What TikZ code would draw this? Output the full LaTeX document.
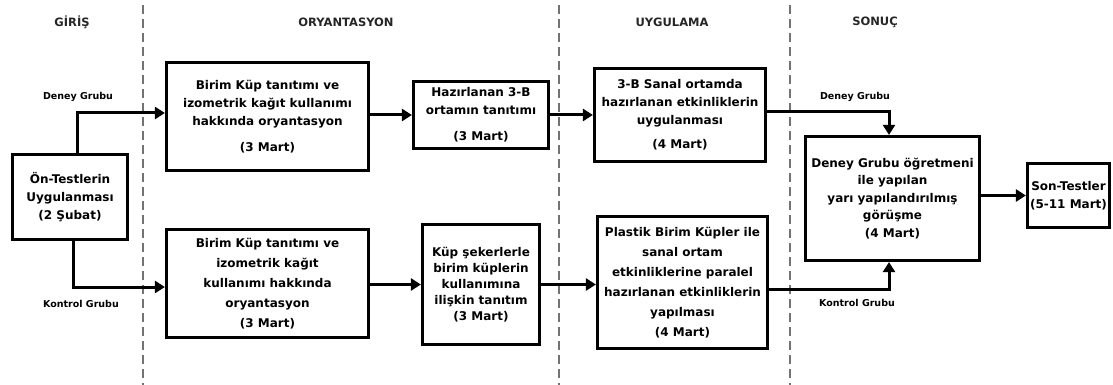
\documentclass[tikz,border=0pt]{standalone}
\usepackage{fontspec}
\setmainfont{DejaVu Sans}
\usetikzlibrary{arrows.meta,calc}
\begin{document}
\begin{tikzpicture}[x=1pt,y=-1pt,
 box/.style={draw,line width=3.2pt,align=center,inner sep=2pt,font=\fontsize{12}{18}\selectfont\bfseries},
 arr/.style={line width=3pt,-{Triangle[length=10pt,width=12pt]}},
 lbl/.style={font=\fontsize{9.5}{11}\selectfont\bfseries},
 hdr/.style={font=\fontsize{11.5}{14}\selectfont\bfseries, text=black!85},
 sep/.style={draw=black!55,line width=2.2pt,dash pattern=on 9pt off 5pt}]
\useasboundingbox (0,0) rectangle (1113,385);
% separators
\draw[sep] (143,5) -- (143,385);
\draw[sep] (559,5) -- (559,385);
\draw[sep] (790,5) -- (790,385);
% headers
\node[hdr] (hG) at (72,22) {GİRİŞ};
\node[hdr] (hO) at (346,22) {ORYANTASYON};
\node[hdr] (hU) at (672,22) {UYGULAMA};
\node[hdr] (hS) at (875,22) {SONUÇ};
% boxes
\node[box,minimum width=115pt,minimum height=85pt] (pre) at (70,197) {Ön-Testlerin\\Uygulanması\\(2 Şubat)};
\node[box,minimum width=202pt,minimum height=108pt] (o1) at (267.5,116.5) {Birim Küp tanıtımı ve\\izometrik kağıt kullanımı\\hakkında oryantasyon\\[8pt](3 Mart)};
\node[box,minimum width=135pt,minimum height=67pt] (o2) at (481,115) {Hazırlanan 3-B\\ortamın tanıtımı\\[8pt](3 Mart)};
\node[box,minimum width=171pt,minimum height=93pt] (u1) at (680,115) {3-B Sanal ortamda\\hazırlanan etkinliklerin\\uygulanması\\[6pt](4 Mart)};
\node[box,minimum width=202pt,minimum height=108pt,font=\fontsize{12}{20}\selectfont\bfseries] (o3) at (267.5,283.5) {Birim Küp tanıtımı ve\\izometrik kağıt\\kullanımı hakkında\\oryantasyon\\(3 Mart)};
\node[box,minimum width=117pt,minimum height=120pt,font=\fontsize{12}{16}\selectfont\bfseries] (o4) at (481,284.5) {Küp şekerlerle\\birim küplerin\\kullanımına\\ilişkin tanıtım\\(3 Mart)};
\node[box,minimum width=170pt,minimum height=132pt,font=\fontsize{12}{20}\selectfont\bfseries] (u2) at (682.5,282.5) {Plastik Birim Küpler ile\\sanal ortam\\etkinliklerine paralel\\hazırlanan etkinliklerin\\yapılması\\(4 Mart)};
\node[box,minimum width=174pt,minimum height=124pt,font=\fontsize{12}{17.5}\selectfont\bfseries] (s1) at (892.5,198.5) {Deney Grubu öğretmeni\\ile yapılan\\yarı yapılandırılmış\\görüşme\\(4 Mart)};
\node[box,minimum width=82pt,minimum height=64pt] (s2) at (1068.5,195.5) {Son-Testler\\(5-11 Mart)};
% labels
\node[lbl] (lD1) at (78,97) {Deney Grubu};
\node[lbl] (lK1) at (81,304) {Kontrol Grubu};
\node[lbl] (lD2) at (855,97) {Deney Grubu};
\node[lbl] (lK2) at (857,303) {Kontrol Grubu};
% junction coordinates
\coordinate (jA) at (77,113);
\coordinate (jB) at (73,287);
\coordinate (jD) at (889,112);
\coordinate (jK) at (889,289);
% connectors
\draw[arr] (pre.north -| jA) |- (o1.west |- jA);
\draw[arr] (pre.south -| jB) |- (o3.west |- jB);
\draw[arr] (o1.east |- o2) -- (o2.west);
\draw[arr] (o2.east) -- (u1.west |- o2);
\draw[arr] (o3.east |- o4) -- (o4.west);
\draw[arr] (o4.east) -- (u2.west |- o4);
\draw[arr] (u1.east |- jD) -| (s1.north -| jD);
\draw[arr] (u2.east |- jK) -| (s1.south -| jK);
\draw[arr] (s1.east |- s2) -- (s2.west);
\end{tikzpicture}
\end{document}
